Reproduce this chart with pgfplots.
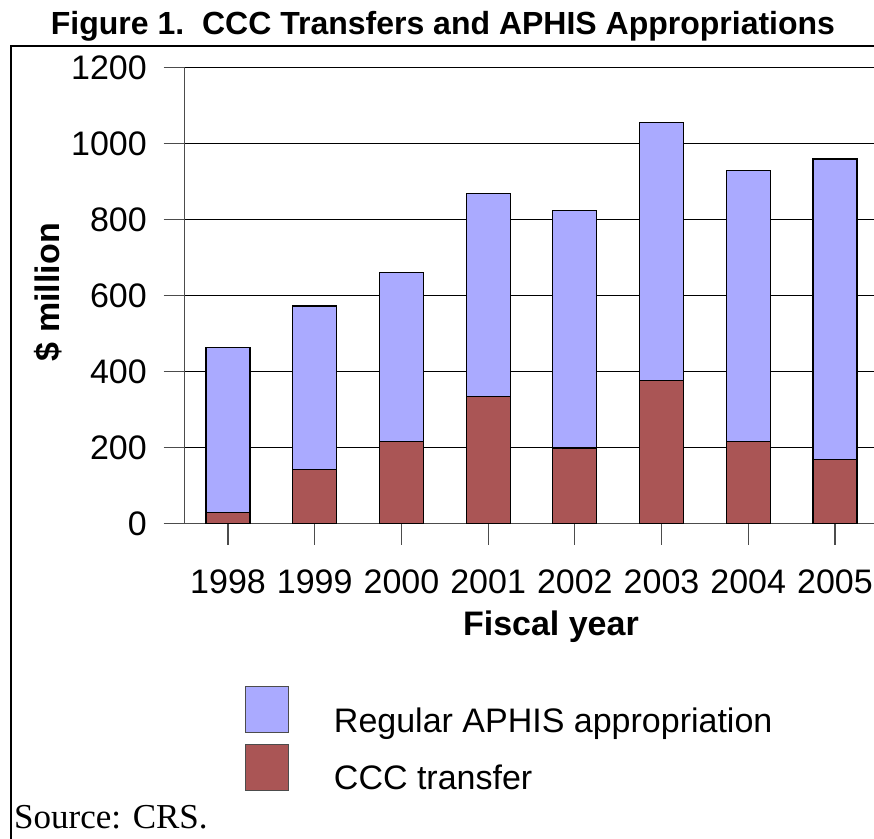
\documentclass[border=0pt]{standalone}
\usepackage{pgfplots}
\pgfplotsset{compat=1.18}
\usepackage{fontspec}
\setmainfont{Liberation Sans}
\newfontfamily\timesfont{Liberation Serif}
\definecolor{aphis}{RGB}{170,170,255}
\definecolor{ccc}{RGB}{170,85,85}
\begin{document}
\begin{tikzpicture}[x=1pt,y=1pt]
\path[use as bounding box] (0,0) rectangle (874,-838);
\draw[line width=2.5pt] (11,-845) -- (11,-46) -- (885,-46);
\node[font=\fontsize{32}{38}\selectfont\bfseries] at (443,-26) {Figure 1.\ \ CCC Transfers and APHIS Appropriations};
\begin{axis}[
  at={(184.7pt,-523.7pt)}, anchor=south west,
  scale only axis, width=693.6pt, height=456pt,
  xmin=-0.5, xmax=7.5, ymin=0, ymax=1200,
  ybar stacked, bar width=44pt,
  axis lines*=left,
  axis line style={gray!60!black, line width=1.5pt},
  ytick={0,200,...,1200},
  ymajorgrids, grid style={black, line width=1.2pt},
  xtick={0,...,7}, xticklabels={1998,1999,2000,2001,2002,2003,2004,2005},
  tick align=outside, major tick length=21pt,
  tick style={gray!60!black, line width=1.2pt},
  /pgf/number format/assume math mode=true,
  /pgf/number format/1000 sep={},
  every tick label/.append style={font=\fontsize{34}{40}\selectfont},
  yticklabel style={anchor=east, inner sep=0pt, xshift=-16.7pt},
  xticklabel style={anchor=base, inner sep=0pt, yshift=-48.3pt},
  xlabel={Fiscal year},
  xlabel style={at={(axis description cs:0.528,-0.2265)}, anchor=center, inner sep=0pt, font=\fontsize{34}{40}\selectfont\bfseries},
  ylabel={\$ million},
  ylabel style={at={(axis description cs:-0.1971,0.508)}, anchor=center, rotate=0, inner sep=0pt, font=\fontsize{34}{40}\selectfont\bfseries},
  legend style={at={(axis description cs:0.0869,-0.3559)}, anchor=north west, draw=none, fill=none,
    inner sep=0pt, outer sep=0pt, row sep=10pt, column sep=45pt, nodes={inner sep=0pt},
    font=\fontsize{34}{40}\selectfont},
  legend cell align=left,
  reverse legend,
]
\addplot[fill=ccc, draw=black, line width=1.2pt,
  legend image code/.code={\draw[fill=ccc, draw=gray!60!black, line width=1pt] (0pt,-12pt) rectangle (43pt,34pt);}]
  coordinates {(0,30) (1,143) (2,217) (3,335) (4,199) (5,376) (6,217) (7,168)};
\addlegendentry{CCC transfer}
\addplot[fill=aphis, draw=black, line width=1.2pt,
  legend image code/.code={\draw[fill=aphis, draw=gray!60!black, line width=1pt] (0pt,-12pt) rectangle (43pt,34pt);}]
  coordinates {(0,434) (1,430) (2,445) (3,534) (4,626) (5,679) (6,712) (7,792)};
\addlegendentry{Regular APHIS appropriation}
\end{axis}
\node[anchor=base west, inner sep=0pt, font=\timesfont\fontsize{35}{40}\selectfont] at (14,-828) {Source: CRS.};
\end{tikzpicture}
\end{document}
